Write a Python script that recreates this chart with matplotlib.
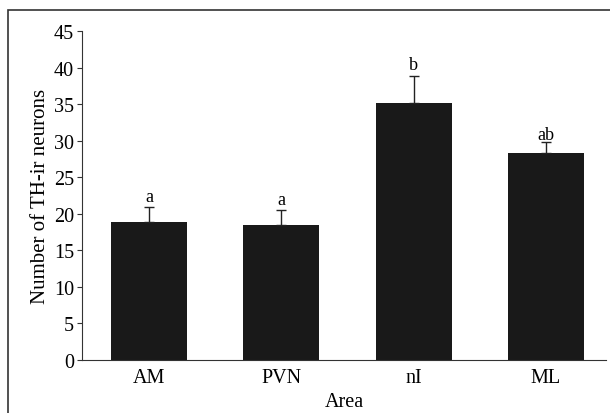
import numpy as np
import matplotlib.pyplot as plt
from matplotlib.patches import Rectangle

# Data
areas = ["AM", "PVN", "nI", "ML"]
means = [18.8, 18.4, 35.1, 28.3]
sem = [2.1, 2.1, 3.7, 1.5]
letters = ["a", "a", "b", "ab"]
letter_gap = [0.85, 0.85, 0.95, 0.35]

plt.rcParams['font.family'] = ['Liberation Serif', 'DejaVu Serif']

fig = plt.figure(figsize=(6.10, 4.14), dpi=100)
ax = fig.add_axes([0.1344, 0.1290, 0.8590, 0.7937])

# outer frame, clipped at the right/bottom like the reference
fig.patches.append(Rectangle((8 / 610, -0.05), 1.0, (414 - 11) / 414 + 0.05,
                             transform=fig.transFigure, fill=False,
                             edgecolor='#333333', linewidth=1.2))

x = np.arange(len(areas))
ax.bar(x, means, width=0.576, color='#191919',
       yerr=[np.zeros(len(sem)), sem], capsize=3.5,
       error_kw=dict(ecolor='#222222', elinewidth=1.0, capthick=1.0))

for xi, m, e, lab, g in zip(x, means, sem, letters, letter_gap):
    ax.text(xi, m + e + g, lab, ha='center', va='baseline', fontsize=13)

ax.set_xlim(-0.508, 3.455)
ax.set_ylim(0, 45)
ax.set_yticks(np.arange(0, 46, 5))
ax.set_xticks(x)
ax.set_xticklabels(areas)

ax.spines['top'].set_visible(False)
ax.spines['right'].set_visible(False)
ax.spines['left'].set_color('#333333')
ax.spines['bottom'].set_color('#333333')
ax.tick_params(axis='y', length=3.6, labelsize=14.5, pad=2, color='#333333')
ax.tick_params(axis='x', length=0, labelsize=14.5, pad=6)

ax.set_ylabel("Number of TH-ir neurons", fontsize=15, labelpad=3)
ax.set_xlabel("Area", fontsize=14.5, labelpad=3.5)

fig.savefig("out.png", dpi=100)
